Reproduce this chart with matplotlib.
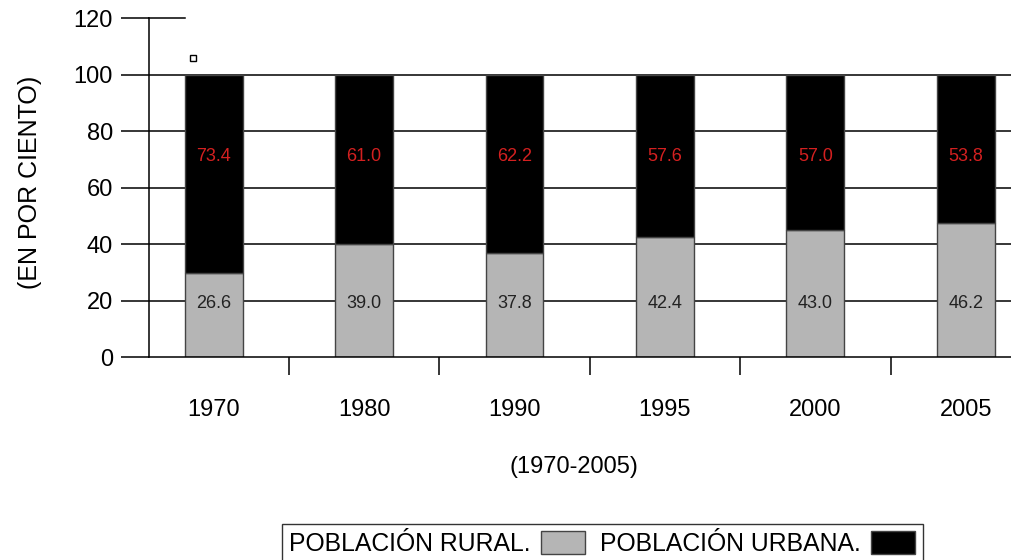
import matplotlib.pyplot as plt
from matplotlib.patches import Patch

# Datos
anios = ["1970", "1980", "1990", "1995", "2000", "2005"]
# alturas de las barras tal como aparecen dibujadas
rural_barra = [29.6, 40.0, 36.7, 42.4, 45.0, 47.6]
urbana_barra = [100 - r for r in rural_barra]
# etiquetas de valor
rural_etiqueta = ["26.6", "39.0", "37.8", "42.4", "43.0", "46.2"]
urbana_etiqueta = ["73.4", "61.0", "62.2", "57.6", "57.0", "53.8"]

plt.rcParams["font.family"] = ["Liberation Sans", "DejaVu Sans"]

fig = plt.figure(figsize=(10.11, 5.6), dpi=100)
ax = fig.add_axes([149 / 1011, 203 / 560, 1 - 149 / 1011, (542 - 203) / 560])

x = list(range(len(anios)))
ancho = 0.385
gris = "#b5b5b5"

# Grelha horizontal
for y in [20, 40, 60, 80, 100]:
    ax.axhline(y, color="black", linewidth=1.1, zorder=1)
ax.axhline(120, xmin=0, xmax=(185 - 149) / (1011 - 149), color="black",
           linewidth=1.1, clip_on=False, zorder=1)

ax.bar(x, rural_barra, width=ancho, color=gris, edgecolor="#444444",
       linewidth=1.0, zorder=2)
ax.bar(x, urbana_barra, bottom=rural_barra, width=ancho, color="black",
       edgecolor="#444444", linewidth=1.0, zorder=2)

for i in x:
    ax.text(i, 19, rural_etiqueta[i], ha="center", va="center",
            fontsize=13, color="#222222", zorder=3)
    ax.text(i, 71, urbana_etiqueta[i], ha="center", va="center",
            fontsize=13, color="#d42020", zorder=3)

# pequeño cuadro suelto
ax.plot([-0.136], [105.7], marker="s", markersize=5, markerfacecolor="white",
        markeredgecolor="black", markeredgewidth=1.0, linestyle="none",
        clip_on=False, zorder=3)

ax.set_xlim(-0.429, 5.3)
ax.set_ylim(0, 120)

ax.set_yticks([0, 20, 40, 60, 80, 100, 120])
ax.tick_params(axis="y", direction="out", length=20, width=1.1,
               labelsize=17, pad=6)

ax.set_xticks(x)
ax.set_xticklabels(anios)
ax.tick_params(axis="x", which="major", length=0, labelsize=17, pad=30)
ax.set_xticks([0.5, 1.5, 2.5, 3.5, 4.5], minor=True)
ax.tick_params(axis="x", which="minor", direction="out", length=13, width=1.1)

for lado in ["top", "right"]:
    ax.spines[lado].set_visible(False)
ax.spines["left"].set_linewidth(1.1)
ax.spines["bottom"].set_linewidth(1.1)

fig.text(30 / 1011, 1 - 182 / 560, "(EN POR CIENTO)", rotation=90,
         ha="center", va="center", fontsize=18)
fig.text(574 / 1011, 1 - 467 / 560, "(1970-2005)", ha="center", va="center",
         fontsize=17)

manejadores = [Patch(facecolor=gris, edgecolor="#444444"),
               Patch(facecolor="black", edgecolor="#444444")]
ley = fig.legend(manejadores, ["POBLACIÓN RURAL.", "POBLACIÓN URBANA."],
                 loc="upper left", bbox_to_anchor=(282 / 1011, 1 - 524 / 560),
                 ncol=2, markerfirst=False, fontsize=17.8, frameon=True,
                 fancybox=False, edgecolor="black", handlelength=1.8,
                 handleheight=1.0, handletextpad=0.4, columnspacing=0.6,
                 borderpad=0.3, borderaxespad=0)
ley.get_frame().set_linewidth(1.0)

fig.savefig("out.png", dpi=100)
